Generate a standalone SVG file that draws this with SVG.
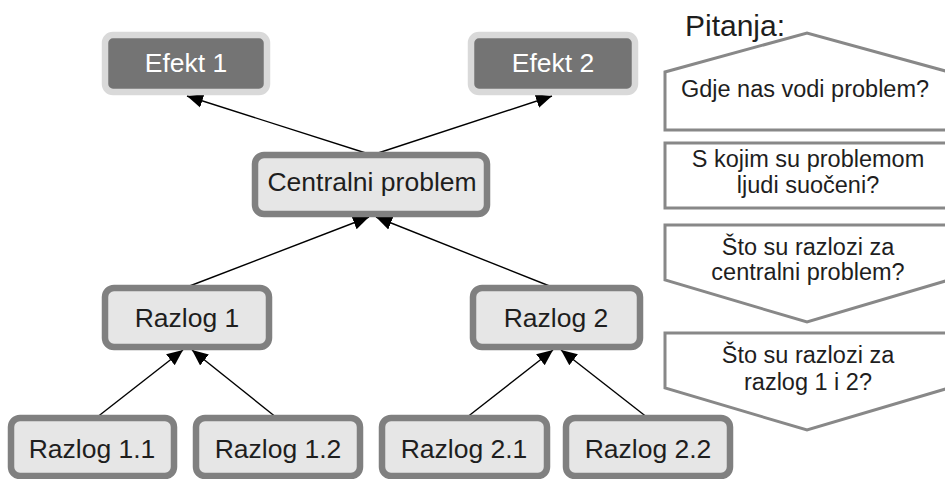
<svg xmlns="http://www.w3.org/2000/svg" width="945" height="479" viewBox="0 0 945 479">
<style>
.t{font-family:"Liberation Sans",Arial,sans-serif;text-anchor:middle}
.n{font-size:26.5px;fill:#1e1e1e}
.e{font-size:26.5px;fill:#ffffff}
.q{font-size:23.5px;fill:#1e1e1e}
.box{fill:#e6e6e6;stroke:#808080;stroke-width:6.5}
.eff{fill:#747474;stroke:#d9d9d9;stroke-width:6.5}
.sh{fill:#ffffff;stroke:#888888;stroke-width:3}
.c{stroke:#000;stroke-width:1.4;fill:none;marker-end:url(#ah)}
</style>
<defs>
<marker id="ah" markerUnits="userSpaceOnUse" markerWidth="18" markerHeight="16" refX="16" refY="8" orient="auto">
<path d="M0,1 L16,8 L0,15 Z" fill="#000"/>
</marker>
</defs>
<g id="connectors">
<line class="c" x1="372" y1="155" x2="187" y2="96"/>
<line class="c" x1="372" y1="155" x2="552" y2="96"/>
<line class="c" x1="187" y1="287" x2="369" y2="217"/>
<line class="c" x1="552" y1="287" x2="376" y2="217"/>
<line class="c" x1="96" y1="418" x2="183" y2="350"/>
<line class="c" x1="277" y1="418" x2="192" y2="350"/>
<line class="c" x1="466" y1="418" x2="553" y2="350"/>
<line class="c" x1="648" y1="418" x2="561" y2="350"/>
</g>
<g id="efekt1"><rect class="eff" x="105" y="35" width="162" height="57" rx="8"/><text class="t e" x="186" y="72">Efekt 1</text></g>
<g id="efekt2"><rect class="eff" x="471" y="35" width="164" height="57" rx="8"/><text class="t e" x="553" y="72">Efekt 2</text></g>
<g id="centralni"><rect class="box" x="255" y="155" width="232" height="59" rx="9"/><text class="t n" x="372" y="191">Centralni problem</text></g>
<g id="razlog1"><rect class="box" x="105" y="288" width="164" height="59" rx="9"/><text class="t n" x="187" y="327">Razlog 1</text></g>
<g id="razlog2"><rect class="box" x="473" y="288" width="167" height="59" rx="9"/><text class="t n" x="556" y="327">Razlog 2</text></g>
<g id="razlog11"><rect class="box" x="11" y="418" width="163" height="58" rx="9"/><text class="t n" x="92" y="458">Razlog 1.1</text></g>
<g id="razlog12"><rect class="box" x="196" y="418" width="164" height="58" rx="9"/><text class="t n" x="278" y="458">Razlog 1.2</text></g>
<g id="razlog21"><rect class="box" x="382" y="418" width="165" height="58" rx="9"/><text class="t n" x="464" y="458">Razlog 2.1</text></g>
<g id="razlog22"><rect class="box" x="566" y="418" width="164" height="58" rx="9"/><text class="t n" x="648" y="458">Razlog 2.2</text></g>
<g id="pitanja"><text class="t" x="735" y="36" style="font-size:30px;fill:#1e1e1e">Pitanja:</text></g>
<g id="q1"><path class="sh" d="M665,130 L665,72 L807,33 L949,72 L949,130 Z"/><text class="t q" x="805" y="97">Gdje nas vodi problem?</text></g>
<g id="q2"><rect class="sh" x="665" y="143" width="284" height="65"/><text class="t q" x="808" y="167">S kojim su problemom</text><text class="t q" x="808" y="193">ljudi suočeni?</text></g>
<g id="q3"><path class="sh" d="M665,225 L949,225 L949,280 L807,322 L665,280 Z"/><text class="t q" x="808" y="255">Što su razlozi za</text><text class="t q" x="808" y="280">centralni problem?</text></g>
<g id="q4"><path class="sh" d="M665,333 L949,333 L949,388 L807,430 L665,388 Z"/><text class="t q" x="808" y="363">Što su razlozi za</text><text class="t q" x="808" y="390">razlog 1 i 2?</text></g>
</svg>
